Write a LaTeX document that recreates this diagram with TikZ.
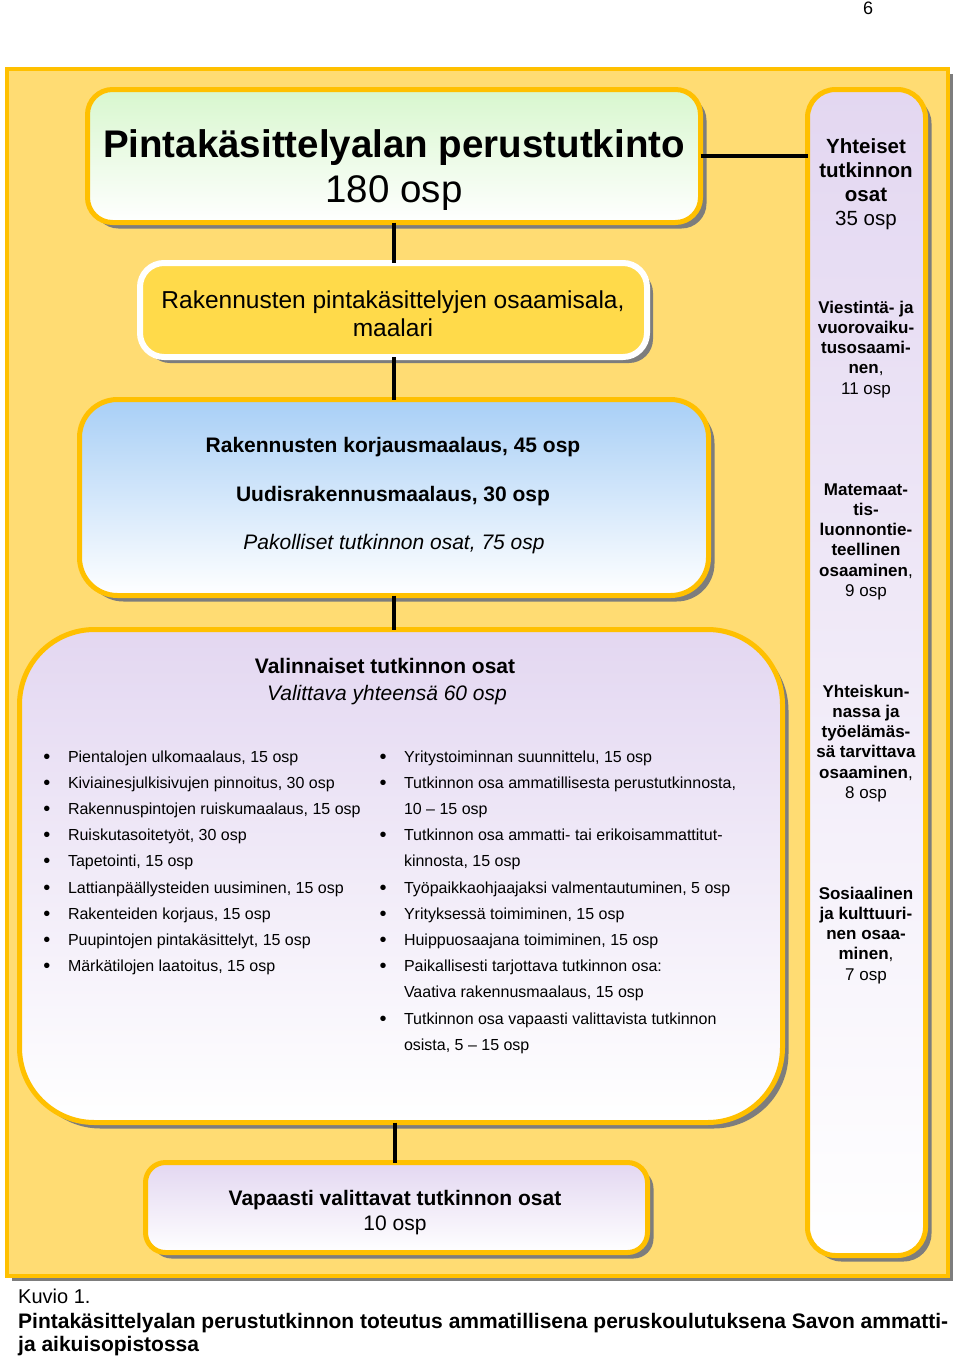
\documentclass[tikz,border=0pt]{standalone}
\usepackage{fontspec}
\setmainfont{Liberation Sans}
\usetikzlibrary{shadows}
\definecolor{frameY}{RGB}{255,220,115}
\definecolor{orng}{RGB}{255,192,0}
\definecolor{lav}{RGB}{227,215,241}
\definecolor{lavmid}{RGB}{235,228,245}
\definecolor{lgreen}{RGB}{216,247,206}
\definecolor{lblue}{RGB}{168,207,246}
\definecolor{yel}{RGB}{255,218,74}
\definecolor{shd}{RGB}{125,125,125}
\tikzset{
  shadowed/.style={drop shadow={shadow xshift=6pt,shadow yshift=-6pt,fill=shd,opacity=1}},
  box/.style={draw=orng,line width=5pt,rounded corners=#1,inner sep=0pt,outer sep=0pt,shadowed},
  conn/.style={line width=4pt,black},
  txt/.style={inner sep=0pt,outer sep=0pt,anchor=base,font=\fontsize{#1}{#1}\selectfont},
  ltxt/.style={inner sep=0pt,outer sep=0pt,anchor=base west,font=\fontsize{16}{16}\selectfont},
  bul/.style={inner sep=0pt,outer sep=0pt,anchor=base,font=\fontsize{20}{20}\selectfont},
}
\begin{document}
\begin{tikzpicture}[x=1pt,y=-1pt]
\useasboundingbox (0,0) rectangle (960,1358);
% page number
\node[txt=18] (pagenum) at (868,14) {6};
% frame
\node[draw=orng,line width=4pt,fill=frameY,inner sep=0pt,outer sep=0pt,
      minimum width=941pt,minimum height=1207pt,
      drop shadow={shadow xshift=5pt,shadow yshift=-5pt,fill=shd,opacity=1}] (frame) at (477.5,672.5) {};
% boxes
\node[box=25pt,minimum width=613pt,minimum height=133pt,top color=lgreen,bottom color=white] (title) at (394,156) {};
\node[box=24pt,draw=white,line width=6pt,fill=yel,minimum width=507pt,minimum height=94pt] (spec) at (393.5,310) {};
\node[box=38pt,minimum width=629pt,minimum height=196pt,top color=lblue,bottom color=white] (mand) at (394,497.5) {};
\node[box=75pt,minimum width=763pt,minimum height=493pt,top color=lav,bottom color=white] (opt) at (401,876) {};
\node[box=20pt,minimum width=502pt,minimum height=90pt,top color=lav,bottom color=white] (free) at (396.5,1207.5) {};
\node[box=28pt,minimum width=118pt,minimum height=1166pt,top color=lav,middle color=lavmid,bottom color=white] (rcol) at (866.5,672.5) {};
% connectors
\draw[conn] (title.south) -- (title.south |- spec.north);
\draw[conn] (spec.south) -- (spec.south |- mand.north);
\draw[conn] (mand.south) -- (mand.south |- opt.north);
\draw[conn] ([xshift=-6pt]opt.south) -- ([xshift=-6pt]opt.south |- free.north);
\draw[conn] (title.east) -- (title.east -| rcol.west);
% title text
\node[txt=38.5] (t1) at (394,157) {\textbf{Pintakäsittelyalan perustutkinto}};
\node[txt=38.5] (t2) at (394,202) {180 osp};
% spec text
\node[txt=24.5] (s1) at (393,308) {Rakennusten pintakäsittelyjen osaamisala,};
\node[txt=24.5] (s2) at (393,336) {maalari};
% mandatory
\node[txt=21] (m1) at (393,452) {\textbf{Rakennusten korjausmaalaus, 45 osp}};
\node[txt=21] (m2) at (393,501) {\textbf{Uudisrakennusmaalaus, 30 osp}};
\node[txt=21] (m3) at (394,549) {\textit{Pakolliset tutkinnon osat, 75 osp}};
% optional heading
\node[txt=21] (o1) at (385,673) {\textbf{Valinnaiset tutkinnon osat}};
\node[txt=21] (o2) at (387,700) {\textit{Valittava yhteensä 60 osp}};
% left list
\foreach \t [count=\i] in {{Pientalojen ulkomaalaus, 15 osp},
  {Kiviainesjulkisivujen pinnoitus, 30 osp},
  {Rakennuspintojen ruiskumaalaus, 15 osp},
  {Ruiskutasoitetyöt, 30 osp},
  {Tapetointi, 15 osp},
  {Lattianpäällysteiden uusiminen, 15 osp},
  {Rakenteiden korjaus, 15 osp},
  {Puupintojen pintakäsittelyt, 15 osp},
  {Märkätilojen laatoitus, 15 osp}}
{
  \node[bul] (lb\i) at (47,763+26.2*\i-26.2) {•};
  \node[ltxt] (lt\i) at (68,762+26.2*\i-26.2) {\t};
}
% right list
\foreach \t [count=\i] in {{Yritystoiminnan suunnittelu, 15 osp},
  {Tutkinnon osa ammatillisesta perustutkinnosta,},
  {10 – 15 osp},
  {Tutkinnon osa ammatti- tai erikoisammattitut-},
  {kinnosta, 15 osp},
  {Työpaikkaohjaajaksi valmentautuminen, 5 osp},
  {Yrityksessä toimiminen, 15 osp},
  {Huippuosaajana toimiminen, 15 osp},
  {Paikallisesti tarjottava tutkinnon osa:},
  {Vaativa rakennusmaalaus, 15 osp},
  {Tutkinnon osa vapaasti valittavista tutkinnon},
  {osista, 5 – 15 osp}}
{
  \node[ltxt] (rt\i) at (404,762+26.2*\i-26.2) {\t};
}
\foreach \i in {1,2,4,6,7,8,9,11}
{
  \node[bul] (rb\i) at (383,763+26.2*\i-26.2) {•};
}
% free
\node[txt=21] (f1) at (395,1205) {\textbf{Vapaasti valittavat tutkinnon osat}};
\node[txt=21] (f2) at (395,1230) {10 osp};
% right column texts
\foreach \t [count=\i] in {\textbf{Yhteiset},\textbf{tutkinnon},\textbf{osat},35 osp}
  \node[txt=20.5] (ra\i) at (866,153+24.3*\i-24.3) {\t};
\foreach \t [count=\i] in {\textbf{Viestintä- ja},\textbf{vuorovaiku-},\textbf{tusosaami-},{\textbf{nen},},11 osp}
  \node[txt=17] (rv\i) at (866,313+20.3*\i-20.3) {\t};
\foreach \t [count=\i] in {\textbf{Matemaat-},\textbf{tis-},\textbf{luonnontie-},\textbf{teellinen},{\textbf{osaaminen},},9 osp}
  \node[txt=17] (rm\i) at (866,495+20.3*\i-20.3) {\t};
\foreach \t [count=\i] in {\textbf{Yhteiskun-},\textbf{nassa ja},\textbf{työelämäs-},\textbf{sä tarvittava},{\textbf{osaaminen},},8 osp}
  \node[txt=17] (ry\i) at (866,697+20.3*\i-20.3) {\t};
\foreach \t [count=\i] in {\textbf{Sosiaalinen},\textbf{ja kulttuuri-},\textbf{nen osaa-},{\textbf{minen},},7 osp}
  \node[txt=17] (rs\i) at (866,899+20.3*\i-20.3) {\t};
% caption
\node[inner sep=0pt,anchor=base west,font=\fontsize{20}{20}\selectfont] (cap1) at (18,1303) {Kuvio 1.};
\node[inner sep=0pt,anchor=base west,font=\fontsize{21}{21}\selectfont\bfseries] (cap2) at (18,1328) {Pintakäsittelyalan perustutkinnon toteutus ammatillisena peruskoulutuksena Savon ammatti-};
\node[inner sep=0pt,anchor=base west,font=\fontsize{21}{21}\selectfont\bfseries] (cap3) at (18,1351) {ja aikuisopistossa};
\end{tikzpicture}
\end{document}
